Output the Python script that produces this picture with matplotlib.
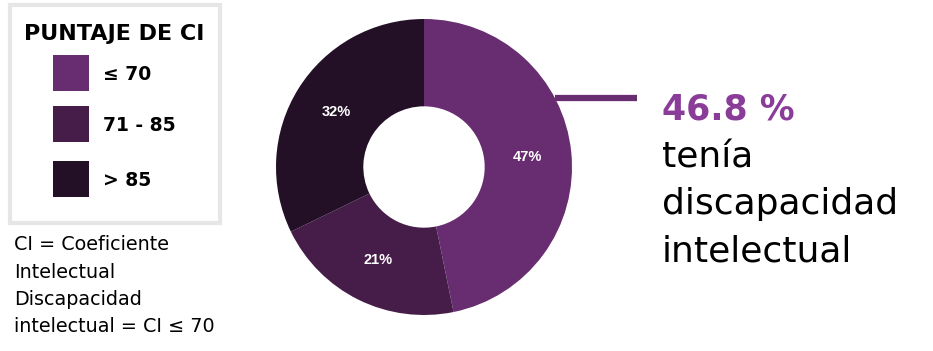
import matplotlib.pyplot as plt
from matplotlib.patches import Rectangle
from matplotlib.lines import Line2D

# datos
categorias = ['≤ 70', '71 - 85', '> 85']
porcentajes = [46.8, 21.0, 32.2]
colores = ['#682D70', '#461D48', '#231027']
titulo_leyenda = 'PUNTAJE DE CI'
nota = ['CI = Coeficiente', 'Intelectual', 'Discapacidad', 'intelectual = CI ≤ 70']
destacado = '46.8 %'
texto_destacado = ['tenía', 'discapacidad', 'intelectual']

plt.rcParams['font.family'] = ['DejaVu Sans']

W, H = 933, 351
fig = plt.figure(figsize=(W / 100, H / 100), dpi=100)


def fx(px):
    return px / W


def fy(py):
    return 1 - py / H


# dona
cx, cy, r = 424, 167, 148
ax = fig.add_axes([fx(cx - r), fy(cy + r), 2 * r / W, 2 * r / H])
wedges, _, autotexts = ax.pie(porcentajes, colors=colores, startangle=90, counterclock=False,
                              radius=1, autopct='%.0f%%', pctdistance=0.70,
                              wedgeprops=dict(width=0.59, linewidth=0),
                              textprops=dict(color='white', fontsize=10.5, fontweight='bold',
                                             family=['Liberation Sans', 'DejaVu Sans']))
ax.set_xlim(-1, 1)
ax.set_ylim(-1, 1)
ax.axis('off')

# linea indicadora
fig.add_artist(Line2D([fx(555), fx(637)], [fy(98), fy(98)], color=colores[0], linewidth=4.5,
                      solid_capstyle='butt'))

fig.text(fx(662), fy(119), destacado, fontsize=25, fontweight='bold', color='#8A3C99',
         ha='left', va='baseline')
for i, t in enumerate(texto_destacado):
    fig.text(fx(662), fy(167 + i * 47), t, fontsize=26, color='black', ha='left', va='baseline')

# caja de leyenda
fig.add_artist(Rectangle((fx(10), fy(223)), fx(210), 218 / H, fill=False,
                         edgecolor='#E6E6E6', linewidth=3))
fig.text(fx(114), fy(40), titulo_leyenda, fontsize=16, fontweight='bold', ha='center',
         va='baseline')
tops = [55, 106, 161]
for cat, col, t in zip(categorias, colores, tops):
    fig.add_artist(Rectangle((fx(53), fy(t + 36)), fx(36), 36 / H, facecolor=col, edgecolor='none'))
    fig.text(fx(103), fy(t + 18), cat, fontsize=13.5, fontweight='bold', ha='left',
             va='center_baseline')

for i, t in enumerate(nota):
    fig.text(fx(14), fy(250 + i * 27.5), t, fontsize=13.8, ha='left', va='baseline')

fig.savefig('out.png', dpi=100)
